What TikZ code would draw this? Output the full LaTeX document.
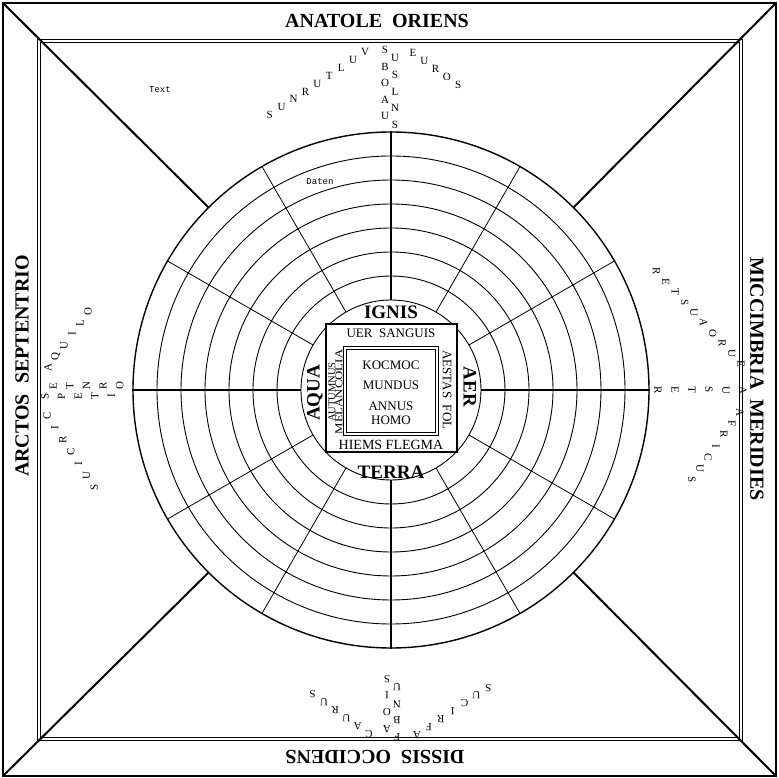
\documentclass[tikz,border=0pt]{standalone}
\usepackage{fontspec}
\setmainfont{Liberation Serif}
\setmonofont{Liberation Mono}
\usetikzlibrary{positioning}

\newcommand{\windset}[9]{%
  \begin{scope}[rotate=#1,shift={(0,-#2)},transform shape]
    \foreach \ch [count=\i from 0] in {#6}
      \node[windch] (#9a\i) at (-26+#4*\i,-338+#5*\i) {\ch};
    \foreach \ch [count=\i from 0] in {#7}
      \node[windch] (#9z\i) at ({(-6+10*mod(\i,2))*(#3<12)},-340+#3*\i) {\ch};
    \foreach \ch [count=\i from 0] in {#8}
      \node[windch] (#9b\i) at (22+11.3*\i,-337+8*\i) {\ch};
  \end{scope}}

\begin{document}
\begin{tikzpicture}[x=1pt,y=-1pt,
    frm/.style={line width=2.2pt},
    thin frm/.style={line width=0.9pt},
    diag/.style={line width=2pt},
    ring/.style={line width=0.9pt},
    spoke/.style={line width=0.8pt},
    axis/.style={line width=1.5pt},
    quarter/.style={font=\bfseries\fontsize{20}{20}\selectfont,inner sep=0pt},
    elem/.style={font=\bfseries\fontsize{19}{19}\selectfont,inner sep=0pt},
    humour/.style={font=\fontsize{13}{13}\selectfont,inner sep=0pt},
    season/.style={font=\fontsize{10.5}{10.5}\selectfont,inner sep=0pt,rotate=90},
    windch/.style={font=\fontsize{11}{11}\selectfont,inner sep=0pt},
    note/.style={font=\ttfamily\fontsize{9}{9}\selectfont,inner sep=0pt}
  ]
  \useasboundingbox (-391,-390) rectangle (388,388);
  \coordinate (c) at (0,0);
  \coordinate (nw) at (-388,-387);
  \coordinate (ne) at (385,-387);
  \coordinate (se) at (385,386);
  \coordinate (sw) at (-388,386);

  \draw[frm] (nw) rectangle (se);
  \draw[thin frm] (-354,-351) rectangle (351,350);
  \draw[thin frm] (-351,-348) rectangle (348,347);
  \draw[diag] (nw) -- (225:258);
  \draw[diag] (ne) -- (315:258);
  \draw[diag] (se) -- (45:258);
  \draw[diag] (sw) -- (135:258);

  \foreach \r in {90,114,...,234}
    \draw[ring] (c) circle[radius=\r pt];
  \draw[line width=1.4pt] (c) circle[radius=258pt];
  \foreach \a in {30,60,120,150,210,240,300,330}
    \draw[spoke] (\a:90) -- (\a:258);
  \foreach \a in {0,90,180,270}
    \draw[axis] (\a:90) -- (\a:259);

  \node[quarter] (east) at (-14,-369) {ANATOLE\ \ ORIENS};
  \node[quarter,rotate=90] (north) at (-369,-24) {ARCTOS\ \ SEPTENTRIO};
  \node[quarter,rotate=-90] (south) at (366,-11) {MICCIMBRIA\ \ MERIDIES};
  \node[quarter,rotate=180] (west) at (-16,367) {DISSIS\ \ OCCIDENS};

  \draw[fill=white,line width=2pt] (-65,-66) rectangle (66,62);
  \draw[thin frm] (-48,-44) rectangle (47,45);
  \draw[line width=0.6pt] (-45,-41) rectangle (44,42);

  \node[elem] (ignis) at (0,-78) {IGNIS};
  \node[elem] (terra) at (0,82) {TERRA};
  \node[elem,rotate=90] (aqua) at (-76,3) {AQUA};
  \node[elem,rotate=-90] (aer) at (79,-3) {AER};

  \node[humour] (uer) at (0,-57) {UER\ \ SANGUIS};
  \node[humour,font=\fontsize{14}{14}\selectfont] (hiems) at (0,55) {HIEMS FLEGMA};
  \node[humour,rotate=-90] (aestas) at (56,0) {AESTAS\ \ FOL};
  \node[season] (autumnus) at (-59,2) {AUTUMNUS};
  \node[season,xscale=1.22] (melancolia) at (-52,2) {MELANCOLIA};
  \node[humour] (kocmoc) at (0,-25) {KOCMOC};
  \node[humour] (mundus) at (0,-5) {MUNDUS};
  \node[humour] (annus) at (0,16) {ANNUS};
  \node[humour] (homo) at (0,30) {HOMO};

  \windset{0}{0}{8.3}{-11.9}{7.9}{V,U,L,T,U,R,N,U,S}{S,U,B,S,O,L,A,N,U,S}{E,U,R,O,S}{t}
  \windset{90}{6}{8.3}{-11.9}{7.9}{C,I,R,C,I,U,S}{S,E,P,T,E,N,T,R,I,O}{A,Q,U,I,L,O}{l}
  \windset{180}{7}{8.3}{-11.9}{7.9}{A,F,R,I,C,U,S}{F,A,B,O,N,I,U,S}{C,A,U,R,U,S}{b}
  \windset{-90}{12}{17}{-10.3}{9.4}{E,U,R,O,A,U,S,T,E,R}{A,U,S,T,E,R}{A,F,R,I,C,U,S}{r}

  \node[note] (text) at (-231,-300) {Text};
  \node[note] (daten) at (-71,-208) {Daten};
\end{tikzpicture}
\end{document}
